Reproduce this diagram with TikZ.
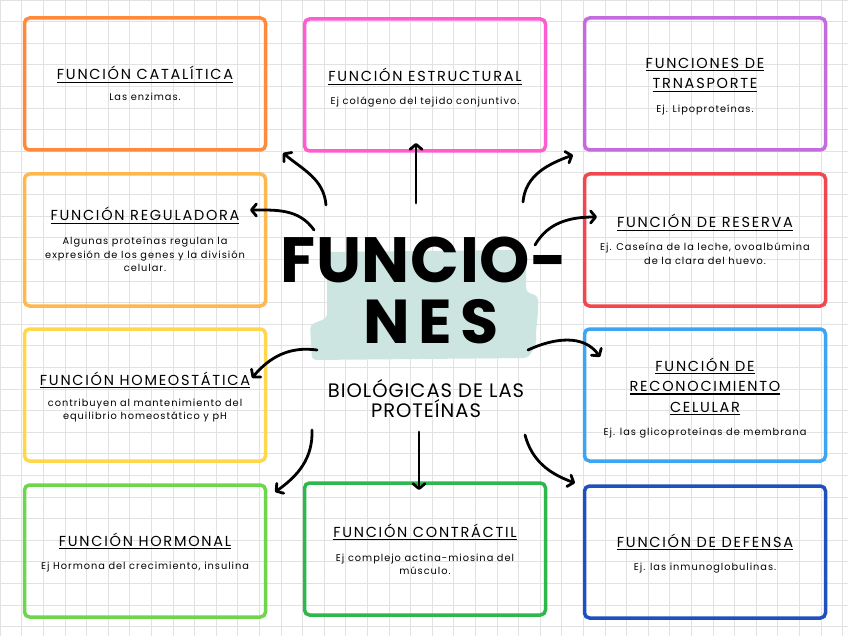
\documentclass[tikz,border=0pt]{standalone}
\usepackage{fontspec}
\setmainfont{Poppins}
\newfontfamily\ttlfont{Poppins}[LetterSpace=12]
\newfontfamily\subfont{Poppins}[LetterSpace=10]
\newfontfamily\biofont{Poppins}[LetterSpace=5]
\newfontfamily\funfont{Poppins}[LetterSpace=1]
\newfontfamily\nesfont{Poppins}[LetterSpace=14]
\usetikzlibrary{arrows.meta}
\definecolor{cCat}{HTML}{FF8A3D}
\definecolor{cEst}{HTML}{FF5CCF}
\definecolor{cTra}{HTML}{C46BE0}
\definecolor{cReg}{HTML}{FFB84D}
\definecolor{cRes}{HTML}{F2474E}
\definecolor{cHom}{HTML}{FFD84A}
\definecolor{cRec}{HTML}{3DA5F4}
\definecolor{cHor}{HTML}{6ED64C}
\definecolor{cCon}{HTML}{2DB84E}
\definecolor{cDef}{HTML}{1E50BE}
\definecolor{cTeal}{HTML}{CCE5E1}
\definecolor{cGrid}{HTML}{E2E2E2}
\newcommand{\myul}[1]{\setbox0\hbox{#1}\rlap{\rule[-3pt]{\wd0}{1.4pt}}\box0}
\tikzset{
  fbox/.style={draw=#1, line width=3.5pt, rounded corners=5pt, minimum width=241pt, minimum height=132pt, inner sep=0pt},
  ttl/.style={font=\ttlfont\fontsize{14.5}{20.5}\selectfont, align=center, inner sep=0pt, anchor=base},
  subt/.style={font=\subfont\fontsize{9.8}{13.5}\selectfont, align=center, inner sep=0pt, anchor=base},
  arr/.style={line width=2.8pt, line cap=round, line join=round, -{Straight Barb[length=5pt,width=12pt,round]}},
}
\begin{document}
\begin{tikzpicture}[x=1pt,y=1pt]
\useasboundingbox (0,0) rectangle (848,-636);
\fill[white] (0,0) rectangle (848,-636);
\draw[cGrid, line width=0.6pt, step=21.6] (0,-636) grid (848,0);

% boxes
\node[fbox=cCat] (cat) at (145,-84) {};
\node[fbox=cEst] (est) at (425,-85) {};
\node[fbox=cTra] (tra) at (705,-84) {};
\node[fbox=cReg] (reg) at (145,-240) {};
\node[fbox=cRes] (res) at (705,-240) {};
\node[fbox=cHom] (hom) at (145,-395) {};
\node[fbox=cRec] (rec) at (705,-395) {};
\node[fbox=cHor] (hor) at (145,-551) {};
\node[fbox=cCon] (con) at (425,-549) {};
\node[fbox=cDef] (def) at (705,-552) {};

% texts (base anchor = baseline of the last line)
\node[ttl] (catT) at (145,-80) {\myul{FUNCIÓN CATALÍTICA}};
\node[subt] (catS) at (145,-101) {Las enzimas.};
\node[ttl] (estT) at (425,-82) {\myul{FUNCIÓN ESTRUCTURAL}};
\node[subt] (estS) at (425,-105) {Ej colágeno del tejido conjuntivo.};
\node[ttl] (traT) at (705,-89) {\myul{FUNCIONES DE}\\\myul{TRNASPORTE}};
\node[subt] (traS) at (705,-113) {Ej. Lipoproteínas.};
\node[ttl] (regT) at (145,-221) {\myul{FUNCIÓN REGULADORA}};
\node[subt, font=\subfont\fontsize{9.8}{13}\selectfont] (regS) at (145,-271) {Algunas proteínas regulan la\\expresión de los genes y la división\\celular.};
\node[ttl] (resT) at (705,-228) {\myul{FUNCIÓN DE RESERVA}};
\node[subt, font=\subfont\fontsize{9.8}{14}\selectfont] (resS) at (705,-265) {Ej. Caseína de la leche, ovoalbúmina\\de la clara del huevo.};
\node[ttl] (homT) at (145,-385) {\myul{FUNCIÓN HOMEOSTÁTICA}};
\node[subt, font=\subfont\fontsize{9.8}{13}\selectfont] (homS) at (145,-419) {contribuyen al mantenimiento del\\equilibrio homeostático y pH};
\node[ttl] (recT) at (705,-412) {\myul{FUNCIÓN DE}\\\myul{RECONOCIMIENTO}\\\myul{CELULAR}};
\node[subt] (recS) at (705,-435) {Ej. las glicoproteínas de membrana};
\node[ttl] (horT) at (145,-546) {\myul{FUNCIÓN HORMONAL}};
\node[subt] (horS) at (145,-569) {Ej Hormona del crecimiento, insulina};
\node[ttl] (conT) at (425,-537) {\myul{FUNCIÓN CONTRÁCTIL}};
\node[subt, font=\subfont\fontsize{9.8}{13}\selectfont] (conS) at (425,-574) {Ej complejo actina-miosina del\\músculo.};
\node[ttl] (defT) at (705,-547) {\myul{FUNCIÓN DE DEFENSA}};
\node[subt] (defS) at (705,-570) {Ej. las inmunoglobulinas.};

% central
\fill[cTeal, rounded corners=4pt] (327,-252) -- (520,-250) -- (526,-258) -- (526,-292) -- (538,-296) -- (538,-312) -- (536,-332) -- (536,-345) -- (528,-358) -- (312,-360) -- (310,-325) -- (327,-318) -- cycle;
\node[font=\funfont\bfseries\fontsize{64}{64}\selectfont, inner sep=0pt, anchor=base] (fun) at (424,-282) {FUNCIO-};
\node[font=\nesfont\bfseries\fontsize{62}{64}\selectfont, inner sep=0pt, anchor=base] (nes) at (431,-343) {NES};
\node[font=\biofont\fontsize{19.5}{20}\selectfont, inner sep=0pt, anchor=base, align=center] (bio) at (426,-417) {BIOLÓGICAS DE LAS\\PROTEÍNAS};

% arrow anchors
\coordinate (s1) at (326,-205); \coordinate (e1) at (283,-153);
\coordinate (s2) at (416,-203); \coordinate (e2) at (416,-143);
\coordinate (s3) at (523,-202); \coordinate (e3) at (573,-155);
\coordinate (s4) at (314,-230); \coordinate (e4) at (250,-210);
\coordinate (s5) at (535,-245); \coordinate (e5) at (597,-217);
\coordinate (s6) at (317,-350); \coordinate (e6) at (252,-378);
\coordinate (s7) at (528,-350); \coordinate (e7) at (600,-357);
\coordinate (s8) at (312,-430); \coordinate (e8) at (275,-492);
\coordinate (s9) at (419,-432); \coordinate (e9) at (419,-490);
\coordinate (s10) at (525,-435); \coordinate (e10) at (575,-483);

\draw[arr] (s1) to[out=95,in=-40] (e1);
\draw[arr] (s2) -- (e2);
\draw[arr] (s3) to[out=85,in=200] (e3);
\draw[arr] (s4) to[out=125,in=0] (e4);
\draw[arr] (s5) to[out=60,in=180] (e5);
\draw[arr] (s6) to[out=172,in=50] (e6);
\draw[arr] (s7) to[out=25,in=125] (e7);
\draw[arr] (s8) to[out=-88,in=35] (e8);
\draw[arr] (s9) -- (e9);
\draw[arr] (s10) to[out=-75,in=160] (e10);
\end{tikzpicture}
\end{document}
